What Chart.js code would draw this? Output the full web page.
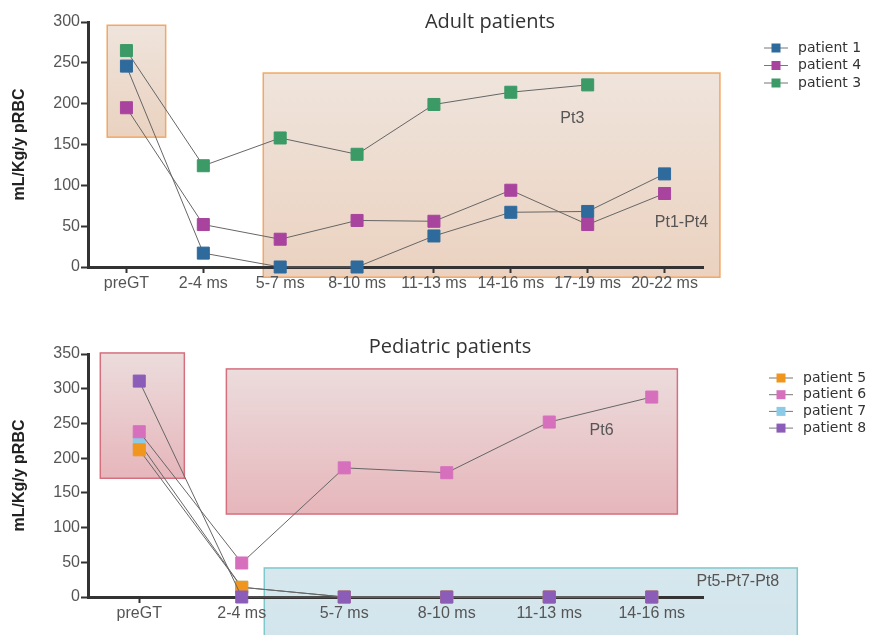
<!DOCTYPE html>
<html>
<head>
<meta charset="utf-8">
<script src="https://cdn.jsdelivr.net/npm/chart.js@4.4.1/dist/chart.umd.min.js"></script>
<style>
  html, body { margin: 0; padding: 0; background: #fff; }
  canvas { display: block; }
</style>
</head>
<body>
<canvas id="adult" width="870" height="305"></canvas>
<canvas id="pediatric" width="870" height="330"></canvas>
<script>
// Adult patients
const adultLabels = ["preGT", "2-4 ms", "5-7 ms", "8-10 ms", "11-13 ms", "14-16 ms", "17-19 ms", "20-22 ms"];
const patient1 = [246, 17, 0, 0, 38, 67, 68, 114];
const patient4 = [195, 52, 34, 57, 56, 94, 52, 90];
const patient3 = [265, 124, 158, 138, 199, 214, 223, null];

// Pediatric patients
const pedLabels = ["preGT", "2-4 ms", "5-7 ms", "8-10 ms", "11-13 ms", "14-16 ms"];
const patient5 = [212, 14, 0, 0, 0, 0];
const patient6 = [238, 49, 186, 179, 252, 288];
const patient7 = [222, 14, 0, 0, 0, 0];
const patient8 = [311, 0, 0, 0, 0, 0];

const TICK_FONT = { family: "'Liberation Sans', Arial, sans-serif", size: 16 };

// Draws shaded boxes, box notes, the title and a line+square legend
const decorPlugin = {
  id: "decor",
  beforeDraw(chart, args, opts) {
    const { ctx } = chart;
    const x = chart.scales.x, y = chart.scales.y;
    (opts.boxes || []).forEach((b) => {
      const l = x.getPixelForValue(b.x0), r = x.getPixelForValue(b.x1);
      const t = y.getPixelForValue(b.y1), btm = y.getPixelForValue(b.y0);
      const g = ctx.createLinearGradient(0, t, 0, btm);
      g.addColorStop(0, b.top);
      g.addColorStop(1, b.bottom);
      ctx.save();
      ctx.fillStyle = g;
      ctx.fillRect(l, t, r - l, btm - t);
      ctx.strokeStyle = b.border;
      ctx.lineWidth = 1.5;
      ctx.strokeRect(l, t, r - l, btm - t);
      ctx.restore();
    });
  },
  afterDraw(chart, args, opts) {
    const { ctx } = chart;
    const x = chart.scales.x, y = chart.scales.y;
    ctx.save();
    ctx.textBaseline = "middle";
    (opts.notes || []).forEach((n) => {
      ctx.font = "16px 'Liberation Sans', Arial, sans-serif";
      ctx.fillStyle = "#555";
      ctx.textAlign = "center";
      ctx.fillText(n.text, x.getPixelForValue(n.x), y.getPixelForValue(n.y));
    });
    if (opts.title) {
      ctx.font = "20px 'Open Sans', sans-serif";
      ctx.fillStyle = "#333";
      ctx.textAlign = "center";
      ctx.fillText(opts.title.text, opts.title.x, opts.title.y);
    }
    if (opts.legend) {
      const lg = opts.legend;
      chart.data.datasets.forEach((ds, i) => {
        const cy = lg.y + i * lg.step;
        ctx.strokeStyle = "#777";
        ctx.lineWidth = 1;
        ctx.beginPath();
        ctx.moveTo(lg.x - 12, cy);
        ctx.lineTo(lg.x + 12, cy);
        ctx.stroke();
        ctx.fillStyle = ds.pointBackgroundColor;
        ctx.fillRect(lg.x - 4.5, cy - 4.5, 9, 9);
        ctx.font = "14px 'DejaVu Sans', sans-serif";
        ctx.fillStyle = "#333";
        ctx.textAlign = "left";
        ctx.fillText(ds.label, lg.x + 22, cy);
      });
    }
    ctx.restore();
  },
};

function series(label, values, color, order) {
  return {
    label: label,
    data: values,
    borderColor: "#666",
    borderWidth: 1,
    pointStyle: "rect",
    pointRadius: 8.5,
    pointHoverRadius: 8.5,
    pointBackgroundColor: color,
    pointBorderColor: color,
    pointBorderWidth: 1,
    tension: 0,
    clip: false,
    order: order,
  };
}

function makeOptions(yMax, padTop, xHeight, decor) {
  return {
    responsive: false,
    animation: false,
    layout: { padding: { top: padTop, right: 167, bottom: 0, left: 0 } },
    scales: {
      x: {
        offset: true,
        grid: { display: true, drawOnChartArea: false, offset: false, tickLength: 6, tickColor: "#333", tickWidth: 2 },
        border: { display: true, color: "#333", width: 3 },
        ticks: { color: "#555", font: TICK_FONT, padding: 1, maxRotation: 0, autoSkip: false },
        afterFit: (s) => { s.height = xHeight; },
      },
      y: {
        min: 0,
        max: yMax,
        grid: { display: true, drawOnChartArea: false, tickLength: 7, tickColor: "#333", tickWidth: 2 },
        border: { display: true, color: "#333", width: 3 },
        ticks: { stepSize: 50, color: "#555", font: TICK_FONT, padding: 1 },
        title: {
          display: true,
          text: "mL/Kg/y pRBC",
          color: "#222",
          font: { family: "'Liberation Sans', Arial, sans-serif", size: 16, weight: "bold" },
          padding: { top: 10, bottom: 0 },
        },
        afterFit: (s) => { s.width = 88; },
      },
    },
    plugins: {
      legend: { display: false },
      tooltip: { enabled: false },
      decor: decor,
    },
  };
}

new Chart(document.getElementById("adult"), {
  type: "line",
  data: {
    labels: adultLabels,
    datasets: [
      series("patient 1", patient1, "#2f6a9c", 1),
      series("patient 4", patient4, "#a8449e", 2),
      series("patient 3", patient3, "#3b9a66", 3),
    ],
  },
  options: makeOptions(300, 22, 38, {
    boxes: [
      { x0: -0.25, x1: 0.51, y0: 159, y1: 296, top: "#efe4dc", bottom: "#ead2c0", border: "#f2a764" },
      { x0: 1.78, x1: 7.72, y0: -12.5, y1: 237.5, top: "#efe4dc", bottom: "#ebd2c0", border: "#f2a764" },
    ],
    notes: [
      { text: "Pt3", x: 5.8, y: 182 },
      { text: "Pt1-Pt4", x: 7.22, y: 54 },
    ],
    title: { text: "Adult patients", x: 490, y: 22 },
    legend: { x: 776, y: 48, step: 17.5 },
  }),
  plugins: [decorPlugin],
});

new Chart(document.getElementById("pediatric"), {
  type: "line",
  data: {
    labels: pedLabels,
    datasets: [
      series("patient 5", patient5, "#f0961e", 2),
      series("patient 6", patient6, "#d670bd", 3),
      series("patient 7", patient7, "#8ccbe6", 4),
      series("patient 8", patient8, "#8b5cb8", 1),
    ],
  },
  options: makeOptions(350, 49, 38, {
    boxes: [
      { x0: -0.38, x1: 0.44, y0: 171, y1: 351.5, top: "#ecdcdc", bottom: "#e6b6bb", border: "#d4707e" },
      { x0: 0.85, x1: 5.25, y0: 119.5, y1: 328.5, top: "#ecdcdc", bottom: "#e6b6bb", border: "#d4707e" },
      { x0: 1.22, x1: 6.42, y0: -70, y1: 41.8, top: "#d6e7ee", bottom: "#d3e5ec", border: "#80c8cc" },
    ],
    notes: [
      { text: "Pt6", x: 4.51, y: 240 },
      { text: "Pt5-Pt7-Pt8", x: 5.84, y: 21.6 },
    ],
    title: { text: "Pediatric patients", x: 450, y: 42 },
    legend: { x: 781, y: 73, step: 16.7 },
  }),
  plugins: [decorPlugin],
});
</script>
</body>
</html>
